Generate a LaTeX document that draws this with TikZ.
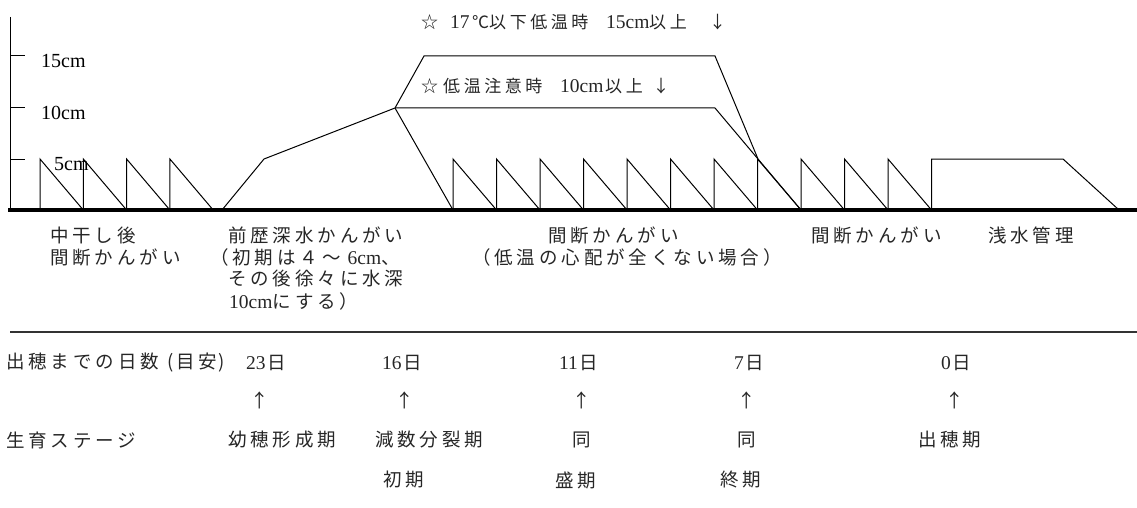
\documentclass[tikz,border=0pt]{standalone}
\usepackage{fontspec}
\setmainfont{Liberation Serif}
\newfontfamily\jpfont[LetterSpace=21]{Noto Sans CJK JP}
\newfontfamily\jpfonttop[LetterSpace=21]{Noto Sans CJK JP}
\newfontfamily\latfont{Liberation Serif}
\newcommand\lt[1]{{\fontsize{19.5}{20}\selectfont\latfont #1}}
\newcommand\bx[2]{\makebox[#1pt][l]{#2}}
\begin{document}
\begin{tikzpicture}[x=1pt,y=-1pt,
  plotline/.style={line width=1pt, black, line join=miter},
  baseline/.style={line width=4pt, black},
  sepline/.style={line width=1.2pt, black!80},
  jlbl/.style={inner sep=0pt, anchor=west, text=black!85, font=\fontsize{18.5}{20}\selectfont\jpfont},
  jctr/.style={inner sep=0pt, anchor=center, text=black!85, font=\fontsize{18.5}{20}\selectfont\jpfont},
  toplbl/.style={inner sep=0pt, anchor=west, text=black!85, font=\fontsize{17}{19}\selectfont\jpfonttop},
  axlbl/.style={inner sep=0pt, anchor=west, font=\fontsize{20}{22}\selectfont\latfont}]
\useasboundingbox (0,0) rectangle (1137,508);

% axis
\draw[plotline] (10,17) -- (10,210);
\foreach \yy in {56,108,159} \draw[plotline] (10,\yy) -- (25,\yy);
\node[axlbl] (l15) at (41,61) {15cm};
\node[axlbl] (l10) at (41,113) {10cm};
\node[axlbl] (l5) at (54,164) {5cm};

% first sawtooth group
\foreach \k in {0,...,3}
  \draw[plotline] ({40+43.3*\k},210) -- ++(0,-51) -- ++(43.3,51);

% deep water
\draw[plotline] (222,210) -- (264,159) -- (395,108) -- (424,56) -- (715,56) -- (758,159);
\draw[plotline] (395,108) -- (715,108) -- (801,210);
\draw[plotline] (395,108) -- (453,210);

% middle sawtooth group
\foreach \k in {0,...,10}
  \draw[plotline] ({453+43.5*\k},210) -- ++(0,-51) -- ++(43.5,51);

% shallow water
\draw[plotline] (931.5,210) -- (931.5,159) -- (1063,159) -- (1119,210);

% ground line
\draw[baseline] (8,210) -- (1137,210);

% top notes
\node[toplbl] (n15) at (421,22) {\bx{29}{☆}\bx{22}{\lt{17}}\bx{17}{℃}\bx{117}{以下低温時}\bx{43}{\lt{15cm}}\bx{60}{以上}↓};
\node[toplbl] (n10) at (421,86) {\bx{22}{☆}\bx{117}{低温注意時}\bx{45}{\lt{10cm}}\bx{47.5}{以上}↓};

% irrigation labels
\node[jlbl] (a1) at (50,235) {中干し後};
\node[jlbl] (a2) at (50,257) {間断かんがい};
\node[jlbl] (b1) at (228,235) {前歴深水かんがい};
\node[jlbl] (b2) at (210,257) {（初期は４～\hspace{7pt}\lt{6cm}、};
\node[jlbl] (b3) at (228,278) {その後徐々に水深};
\node[jlbl] (b4) at (229,301) {\lt{10cm}にする）};
\node[jlbl] (c1) at (548,235) {間断かんがい};
\node[jlbl] (c2) at (472,257) {（低温の心配が全くない場合）};
\node[jlbl] (d1) at (811,235) {間断かんがい};
\node[jlbl] (e1) at (988,235) {浅水管理};

% separator
\draw[sepline] (10,332) -- (1137,332);

% days
\node[jlbl] (h1) at (6,363) {出穂までの日数\hspace{8pt}(\hspace{3pt}目安\hspace{1pt})};
\node[jlbl] (g23) at (246,363) {\lt{23}\hspace{2pt}日};
\node[jlbl] (g16) at (382,363) {\lt{16}\hspace{2pt}日};
\node[jlbl] (g11) at (559,363) {\lt{11}\hspace{2pt}日};
\node[jlbl] (g7) at (734,363) {\lt{7}\hspace{2pt}日};
\node[jlbl] (g0) at (941,363) {\lt{0}\hspace{2pt}日};

% arrows
\node[jctr] (u1) at (260,400) {↑};
\node[jctr] (u2) at (405,400) {↑};
\node[jctr] (u3) at (582,400) {↑};
\node[jctr] (u4) at (747,400) {↑};
\node[jctr] (u5) at (955,400) {↑};

% stages
\node[jlbl] (h2) at (6,440) {生育ステージ};
\node[jlbl] (s1) at (228,440) {幼穂形成期};
\node[jlbl] (s2) at (375,440) {減数分裂期};
\node[jctr] (s3) at (582,440) {同};
\node[jctr] (s4) at (747,440) {同};
\node[jlbl] (s5) at (918,440) {出穂期};
\node[jlbl] (s6) at (383,480) {初期};
\node[jlbl] (s7) at (555,480) {盛期};
\node[jlbl] (s8) at (720,480) {終期};
\end{tikzpicture}
\end{document}
